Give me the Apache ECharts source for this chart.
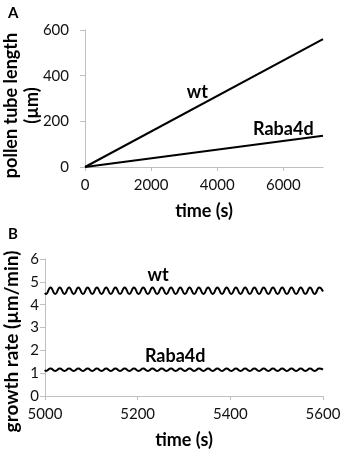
<!DOCTYPE html>
<html>
<head>
<meta charset="utf-8">
<script src="https://cdn.jsdelivr.net/npm/echarts@6/dist/echarts.min.js"></script>
<style>
  html, body { margin: 0; padding: 0; background: #fff; }
  #main { width: 340px; height: 450px; }
</style>
</head>
<body>
<div id="main"></div>
<script>
// panel A: cumulative pollen tube length (um) vs time (s)
var lengthTime = [0, 7200];
var lengthWt = [0, 560];
var lengthRaba = [0, 137];

// panel B: growth rate (um/min) vs time (s), oscillating
var rateTime = [5000,
  5002, 5012, 5022, 5032, 5042, 5052, 5062, 5072, 5082, 5092,
  5102, 5112, 5122, 5132, 5142, 5152, 5162, 5172, 5182, 5192,
  5202, 5212, 5222, 5232, 5242, 5252, 5262, 5272, 5282, 5292,
  5302, 5312, 5322, 5332, 5342, 5352, 5362, 5372, 5382, 5392,
  5402, 5412, 5422, 5432, 5442, 5452, 5462, 5472, 5482, 5492,
  5502, 5512, 5522, 5532, 5542, 5552, 5562, 5572, 5582, 5592,
  5600];
var rateWt = [4.52,
  4.47, 4.75, 4.47, 4.75, 4.47, 4.75, 4.47, 4.75, 4.47, 4.75,
  4.47, 4.75, 4.47, 4.75, 4.47, 4.75, 4.47, 4.75, 4.47, 4.75,
  4.47, 4.75, 4.47, 4.75, 4.47, 4.75, 4.47, 4.75, 4.47, 4.75,
  4.47, 4.75, 4.47, 4.75, 4.47, 4.75, 4.47, 4.75, 4.47, 4.75,
  4.47, 4.75, 4.47, 4.75, 4.47, 4.75, 4.47, 4.75, 4.47, 4.75,
  4.47, 4.75, 4.47, 4.75, 4.47, 4.75, 4.47, 4.75, 4.47, 4.75,
  4.58];
var rateRaba = [1.14,
  1.1, 1.2, 1.1, 1.2, 1.1, 1.2, 1.1, 1.2, 1.1, 1.2,
  1.1, 1.2, 1.1, 1.2, 1.1, 1.2, 1.1, 1.2, 1.1, 1.2,
  1.1, 1.2, 1.1, 1.2, 1.1, 1.2, 1.1, 1.2, 1.1, 1.2,
  1.1, 1.2, 1.1, 1.2, 1.1, 1.2, 1.1, 1.2, 1.1, 1.2,
  1.1, 1.2, 1.1, 1.2, 1.1, 1.2, 1.1, 1.2, 1.1, 1.2,
  1.1, 1.2, 1.1, 1.2, 1.1, 1.2, 1.1, 1.2, 1.1, 1.2,
  1.16];

var seriesNames = ['wt', 'Raba4d'];
var xTicksA = [0, 2000, 4000, 6000];

// where the series names sit, in data units
var tagA = [[3400, 328], [6000, 166]];
var tagB = [[5244, 5.3], [5281, 1.74]];

function pairs(xs, ys) {
  return xs.map(function (x, i) { return [x, ys[i]]; });
}

var font = 'Lato, "Open Sans", sans-serif';
var axisGrey = '#bfbfbf';
var plain = function (v) { return String(v); };

function tickLabel(margin, extra) {
  return Object.assign({ fontFamily: font, fontSize: 15, color: '#111', margin: margin, formatter: plain }, extra || {});
}

function xAxisOf(idx, min, max, interval, gap, extra) {
  var ax = {
    type: 'value', gridIndex: idx, min: min, max: max, interval: interval,
    name: 'time (s)', nameLocation: 'middle', nameGap: gap, nameMoveOverlap: false,
    nameTextStyle: { fontFamily: font, fontWeight: 'bold', fontSize: 18, color: '#000' },
    axisLine: { lineStyle: { color: axisGrey } },
    axisTick: { length: 4, lineStyle: { color: axisGrey } },
    axisLabel: tickLabel(11),
    splitLine: { show: false }
  };
  return Object.assign(ax, extra || {});
}

function tagPoint(text, coord) {
  return {
    coord: coord, symbolSize: 0,
    label: { show: true, formatter: text, fontFamily: font, fontWeight: 'bold', fontSize: 18, color: '#000', position: 'inside' }
  };
}

function lineSeries(name, idx, data, tag, smooth) {
  return {
    name: name, type: 'line', xAxisIndex: idx, yAxisIndex: idx,
    data: data, showSymbol: false, smooth: smooth, animation: false,
    lineStyle: { color: '#000', width: 2 },
    markPoint: { symbol: 'circle', data: [tagPoint(name, tag)] }
  };
}

var myChart = echarts.init(document.getElementById('main'), null, { renderer: 'canvas' });

var option = {
  animation: false,
  title: [
    { text: 'A', left: 3, top: 1, textStyle: { fontFamily: font, fontWeight: 'bold', fontSize: 15, color: '#000' } },
    { text: 'B', left: 3, top: 222, textStyle: { fontFamily: font, fontWeight: 'bold', fontSize: 15, color: '#000' } }
  ],
  grid: [
    { left: 85, right: 17, top: 30, height: 137, containLabel: false, outerBoundsMode: 'none' },
    { left: 45, right: 17, top: 259, height: 137, containLabel: false, outerBoundsMode: 'none' }
  ],
  xAxis: [
    xAxisOf(0, 0, 7200, 2000, 35, {
      axisTick: { length: 4, lineStyle: { color: axisGrey }, customValues: xTicksA },
      axisLabel: tickLabel(11, { customValues: xTicksA })
    }),
    xAxisOf(1, 5000, 5600, 200, 35)
  ],
  yAxis: [
    {
      type: 'value', gridIndex: 0, min: 0, max: 600, interval: 200,
      name: 'pollen tube length\n(µm)', nameLocation: 'middle', nameGap: 42, nameMoveOverlap: false,
      nameTextStyle: { fontFamily: font, fontWeight: 'bold', fontSize: 18, lineHeight: 21, color: '#000', padding: [0, 14, 0, 0] },
      axisLine: { show: true, lineStyle: { color: axisGrey } },
      axisTick: { show: true, length: 5, lineStyle: { color: axisGrey } },
      axisLabel: tickLabel(16),
      splitLine: { show: false }
    },
    {
      type: 'value', gridIndex: 1, min: 0, max: 6, interval: 1,
      name: 'growth rate (µm/min)', nameLocation: 'middle', nameGap: 24, nameMoveOverlap: false,
      nameTextStyle: { fontFamily: font, fontWeight: 'bold', fontSize: 19, color: '#000', padding: [0, 28, 0, 0] },
      axisLine: { show: true, lineStyle: { color: axisGrey } },
      axisTick: { show: true, length: 5, lineStyle: { color: axisGrey } },
      axisLabel: tickLabel(6),
      splitLine: { show: false }
    }
  ],
  series: [
    lineSeries(seriesNames[0], 0, pairs(lengthTime, lengthWt), tagA[0], false),
    lineSeries(seriesNames[1], 0, pairs(lengthTime, lengthRaba), tagA[1], false),
    lineSeries(seriesNames[0], 1, pairs(rateTime, rateWt), tagB[0], true),
    lineSeries(seriesNames[1], 1, pairs(rateTime, rateRaba), tagB[1], true)
  ]
};

myChart.setOption(option);
window.addEventListener('resize', myChart.resize);
</script>
</body>
</html>
